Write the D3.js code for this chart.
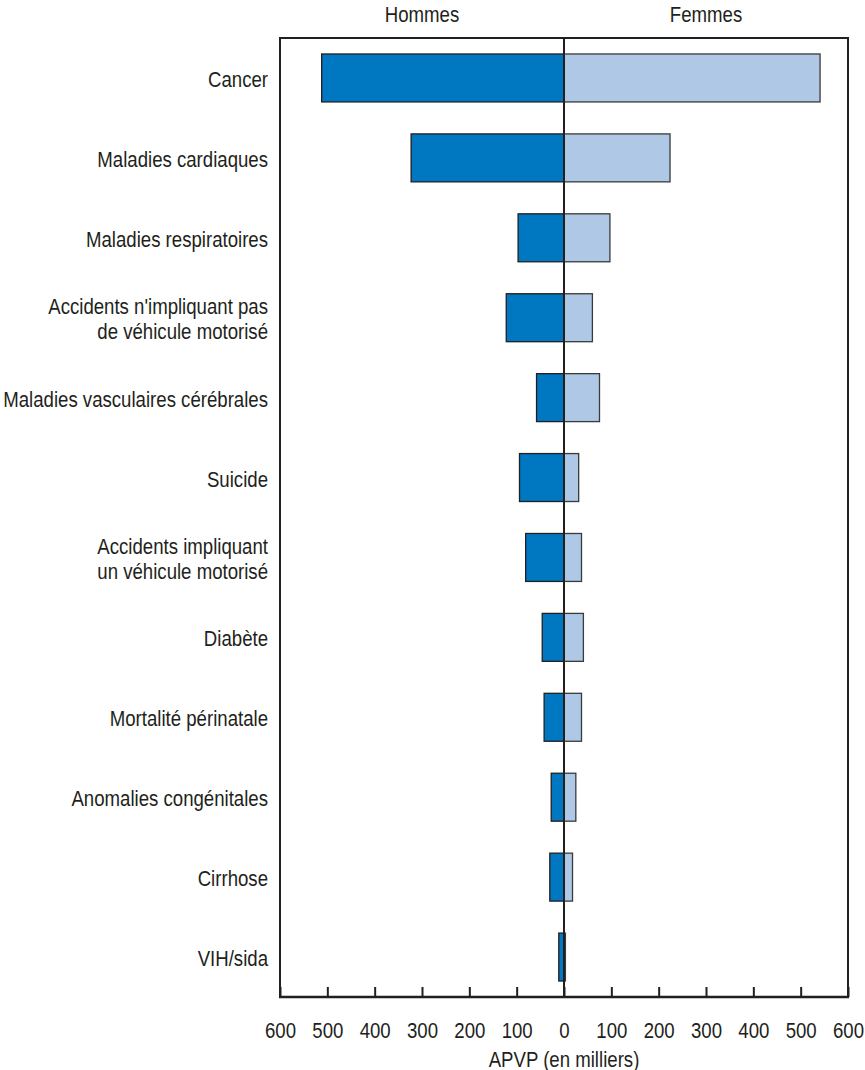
<!DOCTYPE html>
<html>
<head>
<meta charset="utf-8">
<script src="https://cdn.jsdelivr.net/npm/d3@7"></script>
<style>
  body { margin: 0; background: #fff; }
  text { font-family: 'Liberation Sans', Arial, sans-serif; fill: #231f20; }
</style>
</head>
<body>
<div class="chart"></div>
<script>
const width = 865, height = 1070;
const fontSize = "23px", squeeze = 0.81;   // fake a condensed face

const causes = [
  ["Cancer"],
  ["Maladies cardiaques"],
  ["Maladies respiratoires"],
  ["Accidents n'impliquant pas", "de véhicule motorisé"],
  ["Maladies vasculaires cérébrales"],
  ["Suicide"],
  ["Accidents impliquant", "un véhicule motorisé"],
  ["Diabète"],
  ["Mortalité périnatale"],
  ["Anomalies congénitales"],
  ["Cirrhose"],
  ["VIH/sida"]
];
const hommes = [512, 323, 97, 122, 58, 94, 81, 46, 42, 27, 30, 11];
const femmes = [541, 224, 97, 60, 75, 31, 37, 41, 37, 25, 18, 3];
const ticks = [600, 500, 400, 300, 200, 100, 0, 100, 200, 300, 400, 500, 600];

const plotL = 280, plotR = 848, plotT = 38, plotB = 997;
const mid = (plotL + plotR) / 2;

const svg = d3.select(".chart").append("svg")
  .attr("width", width)
  .attr("height", height);

// men to the left, women to the right
const xL = d3.scaleLinear().domain([0, 600]).range([mid, plotL]);
const xR = d3.scaleLinear().domain([0, 600]).range([mid, plotR]);
const y = d3.scaleBand().domain(d3.range(causes.length)).range([plotT, plotB]).paddingInner(0.4).paddingOuter(0.2);

// bars
svg.selectAll("rect.h").data(hommes).enter().append("rect")
  .attr("class", "h")
  .attr("x", d => xL(d))
  .attr("y", (d, i) => y(i))
  .attr("width", d => mid - xL(d))
  .attr("height", y.bandwidth())
  .attr("fill", "#0077c1")
  .attr("stroke", "#231f20")
  .attr("stroke-width", 1.3);

svg.selectAll("rect.f").data(femmes).enter().append("rect")
  .attr("class", "f")
  .attr("x", mid)
  .attr("y", (d, i) => y(i))
  .attr("width", d => xR(d) - mid)
  .attr("height", y.bandwidth())
  .attr("fill", "#aec8e6")
  .attr("stroke", "#3a3a3a")
  .attr("stroke-width", 1.3);

// frame
svg.append("path")
  .attr("d", `M${plotL},${plotB} V${plotT} H${plotR} V${plotB}`)
  .attr("fill", "none").attr("stroke", "#231f20").attr("stroke-width", 2);
svg.append("line")
  .attr("x1", mid).attr("x2", mid).attr("y1", plotT).attr("y2", plotB)
  .attr("stroke", "#231f20").attr("stroke-width", 2);

// bottom axis, ticks pointing inside
const tickPos = ticks.map((t, i) => i < 6 ? xL(t) : xR(t));
const xAxis = d3.scaleOrdinal().domain(d3.range(ticks.length)).range(tickPos);
const axis = svg.append("g")
  .attr("transform", `translate(0,${plotB})`)
  .call(d3.axisBottom(xAxis).tickSizeInner(-10).tickSizeOuter(0).tickFormat(i => ticks[i]));
axis.select(".domain").attr("stroke", "#231f20").attr("stroke-width", 2.5)
  .attr("d", `M${plotL - 1},0H${plotR + 1}`);
axis.selectAll(".tick line").attr("stroke", "#231f20").attr("stroke-width", 2);
axis.selectAll(".tick text")
  .attr("y", 41).attr("dy", 0)
  .attr("transform", `scale(${squeeze},1)`)
  .attr("fill", "#231f20")
  .style("font-size", fontSize)
  .style("font-family", "'Liberation Sans', Arial, sans-serif");

function label(x, yy, txt) {
  return svg.append("text")
    .attr("transform", `translate(${x},${yy}) scale(${squeeze},1)`)
    .attr("text-anchor", "middle")
    .style("font-size", fontSize)
    .text(txt);
}
label(mid, 1067, "APVP (en milliers)");
label((plotL + mid) / 2, 22, "Hommes");
label((mid + plotR) / 2, 22, "Femmes");

// category labels
const labels = svg.selectAll("text.cat").data(causes).enter().append("text")
  .attr("class", "cat")
  .attr("text-anchor", "end")
  .style("font-size", fontSize)
  .attr("transform", (d, i) => `translate(268,${y(i) + y.bandwidth() / 2 + 1}) scale(${squeeze},1)`);
labels.selectAll("tspan").data(d => d).enter().append("tspan")
  .attr("x", 0)
  .attr("y", (d, j, n) => (j - (n.length - 1) / 2) * 25)
  .attr("dy", "0.35em")
  .text(d => d);
</script>
</body>
</html>
